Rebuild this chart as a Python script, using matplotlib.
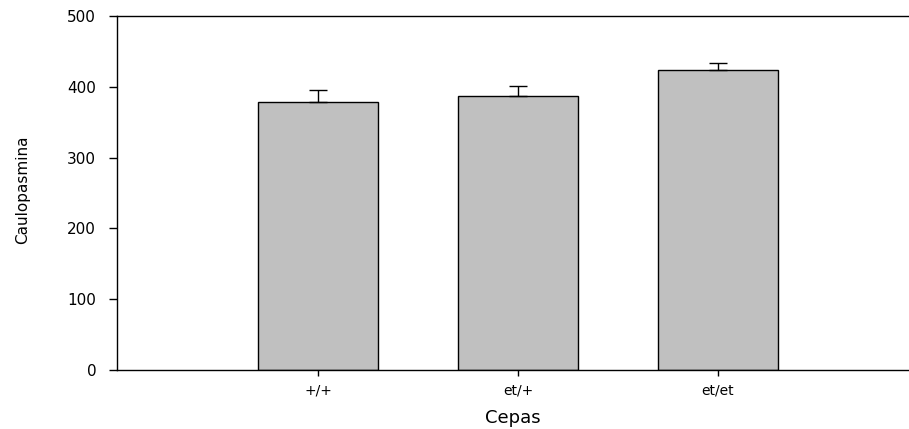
import matplotlib
matplotlib.use("Agg")
import matplotlib.pyplot as plt
import numpy as np

# datos
cepas = ['+/+', 'et/+', 'et/et']
medias = [378, 386.5, 423.5]
error_sup = [18, 15, 10.5]

plt.rcParams['font.family'] = ['DejaVu Sans']

fig = plt.figure(figsize=(9.09, 4.29), dpi=100)
ax = fig.add_axes([117 / 909, 59 / 429, 1 - 117 / 909, 354 / 429])

x = np.arange(len(cepas))
ax.bar(x, medias, width=0.6, color='#c0c0c0', edgecolor='black', linewidth=1.0, zorder=2)
ax.errorbar(x, medias, yerr=[[0] * len(cepas), error_sup], fmt='none',
            ecolor='black', elinewidth=1.0, capsize=6.5, capthick=1.0, zorder=3)

ax.set_xlim(-1.005, 2.955)
ax.set_ylim(0, 500)
ax.set_yticks([0, 100, 200, 300, 400, 500])
ax.set_xticks(x)
ax.set_xticklabels(cepas)

# ejes: izquierda, abajo y arriba
ax.spines['right'].set_visible(False)
for s in ['left', 'bottom', 'top']:
    ax.spines[s].set_linewidth(1.0)

ax.tick_params(axis='y', direction='out', length=6, width=1.0, labelsize=11, pad=9)
ax.tick_params(axis='x', direction='out', length=4, width=1.0, labelsize=10, pad=6)

ax.set_xlabel('Cepas', fontsize=13, labelpad=8)
ax.set_ylabel('Caulopasmina', fontsize=11)
ax.yaxis.set_label_coords(-87 / 792, 0.51)

fig.savefig('out.png', dpi=100)
